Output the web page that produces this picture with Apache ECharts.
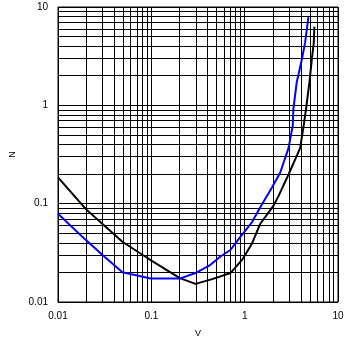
<!DOCTYPE html>
<html>
<head>
<meta charset="utf-8">
<script src="https://cdn.jsdelivr.net/npm/echarts@6/dist/echarts.min.js"></script>
<style>
  html, body { margin: 0; padding: 0; background: #fff; }
  #chart { width: 354px; height: 343px; }
</style>
</head>
<body>
<div id="chart"></div>
<script>
// values (log-log)
const blackX = [0.01, 0.0199, 0.03, 0.049, 0.0907, 0.202, 0.297, 0.43, 0.55, 0.703, 0.937, 1.2, 1.47, 2.04, 2.31, 2.95, 3.93, 4.27, 4.55, 4.94, 5.24, 5.5, 5.58];
const blackY = [0.185, 0.088, 0.062, 0.041, 0.028, 0.0175, 0.0153, 0.0169, 0.0182, 0.0197, 0.0268, 0.0394, 0.0625, 0.0955, 0.12, 0.198, 0.367, 0.607, 0.927, 1.71, 2.94, 4.3, 6.3];
const blueX = [0.01, 0.0199, 0.03, 0.049, 0.098, 0.202, 0.297, 0.43, 0.55, 0.703, 0.9, 1.2, 1.47, 1.96, 2.4, 2.95, 3.28, 3.33, 3.61, 4.1, 4.44, 4.82];
const blueY = [0.079, 0.0426, 0.0301, 0.0201, 0.0173, 0.0173, 0.0197, 0.0239, 0.029, 0.0338, 0.046, 0.065, 0.092, 0.146, 0.206, 0.367, 0.63, 0.927, 1.71, 2.94, 4.33, 7.87];
const decades = [0.01, 0.1, 1];
const steps = [1, 2, 3, 4, 5, 6, 7, 8, 9];

// grid lines at 1..9 of every decade
let gridVals = [];
decades.forEach(function (d) {
  steps.forEach(function (s) {
    gridVals.push(+(d * s).toPrecision(3));
  });
});
gridVals.push(10);

let gridLines = [];
gridVals.forEach(function (v) {
  gridLines.push({ xAxis: v });
  gridLines.push({ yAxis: v });
});

function pairs(xs, ys) {
  return xs.map(function (x, i) { return [x, ys[i]]; });
}

const chart = echarts.init(document.getElementById("chart"), null, { renderer: "canvas" });

let labelFont = {
  color: "#000",
  fontFamily: "Liberation Sans",
  fontSize: 10
};

let option = {
  animation: false,
  grid: {
    left: 57,
    right: 16,
    top: 7,
    bottom: 37,
    show: true,
    borderColor: "#000",
    borderWidth: 1
  },
  xAxis: {
    type: "log",
    min: 0.01,
    max: 10,
    logBase: 10,
    name: "V",
    nameLocation: "middle",
    nameGap: 27,
    nameTextStyle: { color: "#000", fontFamily: "Liberation Sans", fontSize: 9 },
    axisLine: { show: false },
    axisTick: { show: false },
    splitLine: { show: false },
    axisLabel: Object.assign({ margin: 9, showMinLabel: true, showMaxLabel: true,
      formatter: function (v) { return String(+v.toPrecision(2)); } }, labelFont)
  },
  yAxis: {
    type: "log",
    min: 0.01,
    max: 10,
    logBase: 10,
    name: "N",
    nameLocation: "middle",
    nameGap: 41,
    nameRotate: 90,
    nameTextStyle: { color: "#000", fontFamily: "Liberation Sans", fontSize: 9 },
    axisLine: { show: false },
    axisTick: { show: false },
    splitLine: { show: false },
    axisLabel: Object.assign({ margin: 10, showMinLabel: true, showMaxLabel: true,
      formatter: function (v) { return String(+v.toPrecision(2)); } }, labelFont)
  },
  series: [
    {
      type: "line",
      data: [],
      silent: true,
      markLine: {
        silent: true,
        symbol: "none",
        animation: false,
        label: { show: false },
        lineStyle: { color: "#000", width: 1, type: "solid" },
        data: gridLines
      }
    },
    {
      name: "black",
      type: "line",
      data: pairs(blackX, blackY),
      showSymbol: false,
      smooth: false,
      lineStyle: { color: "#000", width: 2 },
      z: 5
    },
    {
      name: "blue",
      type: "line",
      data: pairs(blueX, blueY),
      showSymbol: false,
      smooth: false,
      lineStyle: { color: "#0000ff", width: 2 },
      z: 6
    }
  ]
};
chart.setOption(option);
</script>
</body>
</html>
